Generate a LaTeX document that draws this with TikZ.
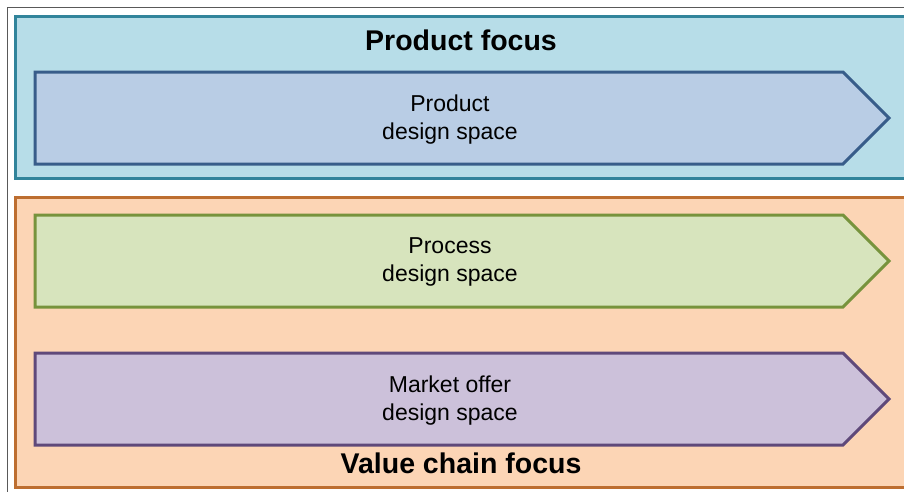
\documentclass[tikz,border=0pt]{standalone}
\usepackage{fontspec}
\setmainfont{Liberation Sans}
\definecolor{topfill}{HTML}{B7DDE8}
\definecolor{topline}{HTML}{31849B}
\definecolor{botfill}{HTML}{FCD5B5}
\definecolor{botline}{HTML}{BD6E30}
\definecolor{prodfill}{HTML}{B9CDE5}
\definecolor{prodline}{HTML}{385D8A}
\definecolor{procfill}{HTML}{D7E4BD}
\definecolor{procline}{HTML}{77933C}
\definecolor{mktfill}{HTML}{CCC1DA}
\definecolor{mktline}{HTML}{5F497A}
\tikzset{
  focusbox/.style={line width=3pt},
  chevron/.style={line width=3pt, line join=miter},
  titletext/.style={font=\fontsize{28.5}{30}\selectfont\bfseries, inner sep=0pt},
  bodytext/.style={font=\fontsize{23}{28}\selectfont, align=center, inner sep=0pt}
}
\begin{document}
\begin{tikzpicture}[x=1pt,y=-1pt]
\useasboundingbox (0,0) rectangle (904,491);
\fill[white] (0,0) rectangle (904,491);
\begin{scope}
\clip (0,0) rectangle (904,491);
% outer frame
\draw[line width=1.5pt, black!65] (7.5,500) -- (7.5,7.5) -- (920,7.5);
% focus boxes
\draw[focusbox, fill=topfill, draw=topline] (15.5,16.5) rectangle (920,178);
\draw[focusbox, fill=botfill, draw=botline] (15.5,197) rectangle (920,487);
% chevrons
\draw[chevron, fill=prodfill, draw=prodline] (35,72) -- (843,72) -- (889,118) -- (843,164) -- (35,164) -- cycle;
\draw[chevron, fill=procfill, draw=procline] (35,215) -- (843,215) -- (889,261) -- (843,307) -- (35,307) -- cycle;
\draw[chevron, fill=mktfill, draw=mktline] (35,353) -- (843,353) -- (889,399) -- (843,445) -- (35,445) -- cycle;
\end{scope}
% texts
\node[titletext] (pf) at (461,40) {Product focus};
\node[titletext] (vf) at (461,463) {Value chain focus};
\node[bodytext] (pd) at (450,120) {Product\\design space};
\node[bodytext] (pr) at (450,262) {Process\\design space};
\node[bodytext] (mo) at (450,401) {Market offer\\design space};
\end{tikzpicture}
\end{document}
